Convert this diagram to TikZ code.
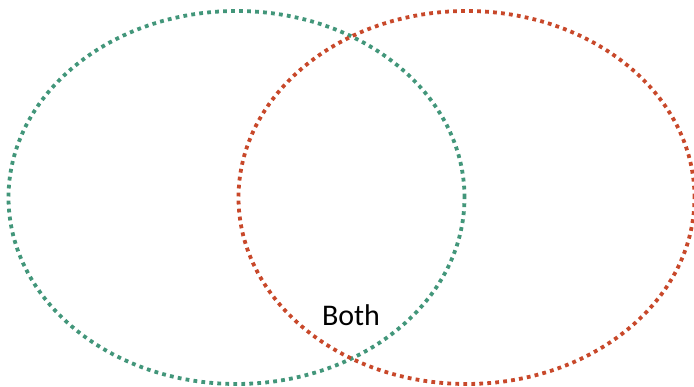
\documentclass[tikz,border=0pt]{standalone}
\usepackage{fontspec}
\setmainfont{Carlito}
\usepackage{xcolor}
\usepackage{tikz}
\usetikzlibrary{shapes.geometric,positioning}
\definecolor{setgreen}{RGB}{66,150,122}
\definecolor{setred}{RGB}{200,72,42}
\tikzset{
  venn/.style={ellipse, draw=#1, line width=3.8pt, dash pattern=on 3.8pt off 4.2pt,
               minimum width=456pt, minimum height=373pt, inner sep=0pt, outer sep=0pt},
  lbl/.style={font=\fontsize{30}{32}\selectfont, text=black, inner sep=0pt},
}
\begin{document}
\begin{tikzpicture}[x=1pt, y=1pt]
\useasboundingbox (0,0) rectangle (694,387);

% the two sets
\node[venn=setgreen] (setA) at (236.5,189.5) {};
\node[venn=setred] (setB) at (466.5,189.5) {};

% overlap label
\node[lbl] (both) at (351,71.5) {Both};

\end{tikzpicture}
\end{document}
